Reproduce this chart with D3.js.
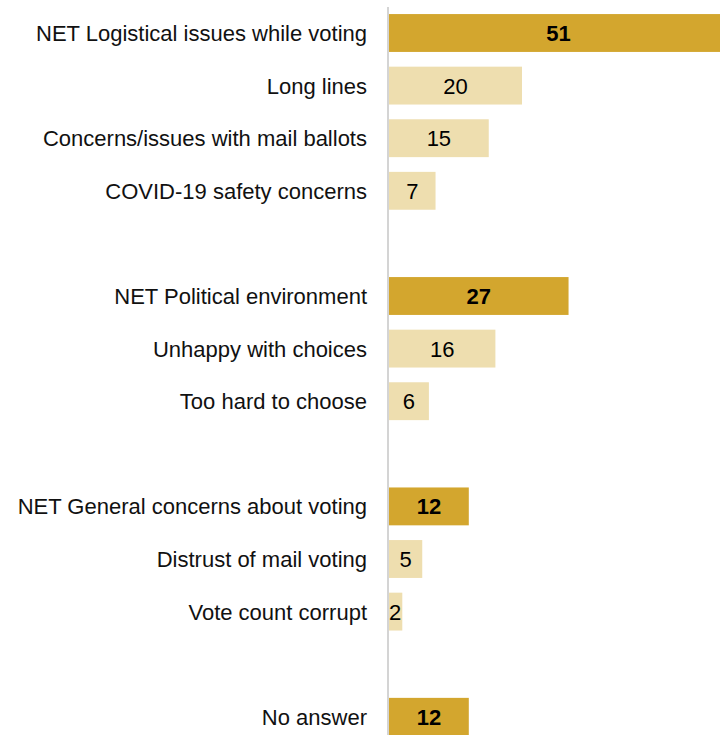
<!DOCTYPE html>
<html><head><meta charset="utf-8">
<script src="https://cdn.jsdelivr.net/npm/d3@7"></script>
<style>body{margin:0;background:#fff}svg{display:block}</style>
</head><body>
<script>
const categories = ["NET Logistical issues while voting","Long lines","Concerns/issues with mail ballots","COVID-19 safety concerns","",
  "NET Political environment","Unhappy with choices","Too hard to choose","",
  "NET General concerns about voting","Distrust of mail voting","Vote count corrupt","",
  "No answer"];
const values = [51,20,15,7,null,27,16,6,null,12,5,2,null,12];
const isNet = [true,false,false,false,false,true,false,false,false,true,false,false,false,true];

const W=720,H=735;
const svg=d3.select("body").append("svg").attr("width",W).attr("height",H);
const x=d3.scaleLinear().domain([0,51]).range([389,389+51*6.65]);
const slots=d3.range(categories.length);
const y=d3.scaleBand().domain(slots).range([6.7,6.7+14*52.6]).paddingInner(0.28).paddingOuter(0.14);
const font="'Liberation Sans', Arial, sans-serif";

const rows=slots.filter(i=>values[i]!==null);
svg.selectAll("rect.bar").data(rows).join("rect")
  .attr("x",x(0)).attr("y",i=>y(i)).attr("width",i=>x(values[i])-x(0)).attr("height",y.bandwidth())
  .attr("fill",i=>isNet[i]?"#D3A62E":"#EEDEAF");
svg.append("line").attr("x1",388).attr("x2",388).attr("y1",7).attr("y2",H).attr("stroke","#d4d4d4").attr("stroke-width",2);
svg.selectAll("text.lab").data(rows).join("text")
  .attr("x",367).attr("y",i=>y(i)+y.bandwidth()/2).attr("dy","0.36em").attr("text-anchor","end")
  .attr("font-family",font).attr("font-size",22).attr("fill","#111").text(i=>categories[i]);
svg.selectAll("text.val").data(rows).join("text")
  .attr("x",i=>values[i]<=2?x(0):(x(0)+x(values[i]))/2).attr("text-anchor",i=>values[i]<=2?"start":"middle")
  .attr("y",i=>y(i)+y.bandwidth()/2).attr("dy","0.36em")
  .attr("font-family",font).attr("font-size",22).attr("font-weight",i=>isNet[i]?"bold":"normal").attr("fill","#000")
  .text(i=>values[i]);
</script>
</body></html>
